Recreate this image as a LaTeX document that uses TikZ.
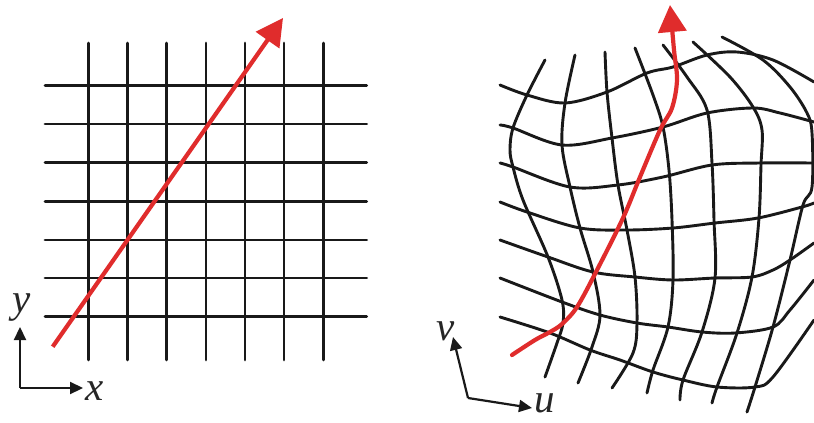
\documentclass[tikz,border=0pt]{standalone}
\usepackage{fontspec}
\setmainfont{Liberation Serif}
\usetikzlibrary{arrows.meta}
\definecolor{arrowred}{RGB}{224,44,44}
\tikzset{
  gridline/.style={line width=2.9pt, black!90, line cap=round},
  curveline/.style={line width=2.9pt, black!90, line cap=round, smooth, tension=0.55},
  redarrow/.style={line width=4.2pt, arrowred, -{Triangle[length=27pt,width=28pt]}},
  axisarrow/.style={line width=2.2pt, black!90, -{Triangle[length=13pt,width=12pt]}},
  axislabel/.style={font=\fontsize{41}{44}\selectfont\itshape, inner sep=0pt, anchor=base, black!85}
}
\begin{document}
\begin{tikzpicture}[x=1pt,y=-1pt]
\useasboundingbox (0,0) rectangle (814,423);
\fill[white] (0,0) rectangle (814,423);

% ---------- left: regular grid ----------
\foreach \xx in {88.3,127.7,166.7,206,245,284,323.3}
  \draw[gridline] (\xx,43) -- (\xx,360);
\foreach \yy in {85.3,124,162.7,201.3,240,278,316.7}
  \draw[gridline] (45,\yy) -- (366.7,\yy);

\coordinate (rs) at (52.7,346.7);
\coordinate (re) at (283,18);
\draw[redarrow] (rs) -- (re);

\coordinate (o1) at (20,388);
\coordinate (ytip) at (20,327);
\coordinate (xtip) at (83,388);
\draw[axisarrow] (o1) -- (ytip);
\draw[axisarrow] (o1) -- (xtip);
\node[axislabel] (ly) at (22,312) {y};
\node[axislabel] (lx) at (95,400) {x};

% ---------- right: warped grid ----------
% horizontal curves
\draw[curveline] plot coordinates {(500,85) (527,95) (565,103) (607,92) (647,73) (673,67) (707,55) (737,52) (773,60) (814,82)};
\draw[curveline] plot coordinates {(500,125) (513,128) (562,145) (612,138) (663,127) (707,113) (753,108) (780,113) (814,122)};
\draw[curveline] plot coordinates {(500,163) (513,167) (570,187) (618,185) (663,177) (712,165) (760,163) (814,163)};
\draw[curveline] plot coordinates {(500,202) (527,212) (580,228) (627,230) (673,228) (715,223) (758,218) (802,207) (814,203)};
\draw[curveline] plot coordinates {(500,240) (548,257) (593,272) (635,277) (673,280) (715,278) (752,277) (773,270) (790,260) (814,243)};
\draw[curveline] plot coordinates {(500,278) (562,302) (600,315) (637,323) (668,327) (702,332) (735,333) (773,327) (790,310) (814,280)};
\draw[curveline] plot coordinates {(500,317) (550,333) (590,350) (620,360) (653,372) (683,380) (717,387) (755,387) (773,377) (814,320)};
% vertical curves
\draw[curveline] plot coordinates {(545,60) (527,95) (513,128) (510,150) (513,167) (523,200) (548,257) (562,300) (563,323) (557,343) (545,377)};
\draw[curveline] plot coordinates {(575,55) (565,103) (562,145) (570,187) (580,228) (593,272) (600,315) (592,347) (578,383)};
\draw[curveline] plot coordinates {(605,52) (607,92) (612,138) (618,185) (627,230) (635,277) (637,323) (633,353) (612,388)};
\draw[curveline] plot coordinates {(635,48) (653,95) (663,127) (669,170) (672,220) (673,280) (668,327) (653,370) (647,393)};
\draw[curveline] plot coordinates {(663,45) (687,77) (707,110) (712,163) (714,220) (715,278) (702,332) (683,380) (680,400)};
\draw[curveline] plot coordinates {(693,42) (730,77) (753,107) (762,130) (761,165) (759,218) (752,277) (737,333) (717,387) (712,403)};
\draw[curveline] plot coordinates {(722,37) (763,60) (790,87) (807,113) (812,133) (812,187) (803,205) (790,260) (773,327) (755,387) (747,412)};

% red curve
\draw[redarrow, line cap=round] plot[smooth, tension=0.55] coordinates {(512,355) (535,340) (550,332) (562,324) (577,307) (597,270) (623,218) (640,177) (660,130) (672,108) (677,80) (674,50) (670,5)};

\coordinate (o2) at (468,398);
\coordinate (vtip) at (453,337);
\coordinate (utip) at (532,408);
\draw[axisarrow] (o2) -- (vtip);
\draw[axisarrow] (o2) -- (utip);
\node[axislabel] (lv) at (446,340) {v};
\node[axislabel] (lu) at (545,412) {u};
\end{tikzpicture}
\end{document}
